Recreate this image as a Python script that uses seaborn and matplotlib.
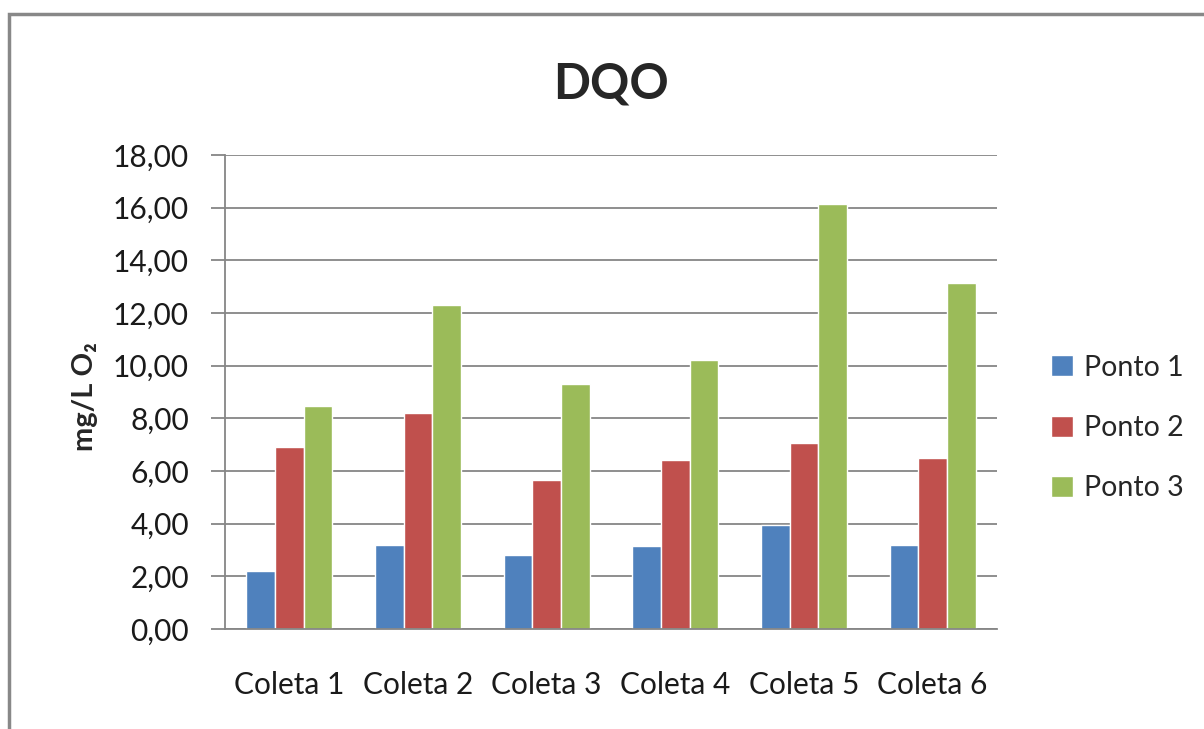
import matplotlib
matplotlib.use("Agg")
import matplotlib.pyplot as plt
import seaborn as sns
import pandas as pd
from matplotlib.patches import Rectangle
from matplotlib.ticker import FuncFormatter, FixedLocator

# dados
coletas = ["Coleta 1", "Coleta 2", "Coleta 3", "Coleta 4", "Coleta 5", "Coleta 6"]
ponto1 = [2.22, 3.20, 2.82, 3.14, 3.94, 3.20]
ponto2 = [6.92, 8.20, 5.65, 6.43, 7.05, 6.49]
ponto3 = [8.46, 12.29, 9.30, 10.22, 16.14, 13.14]
pontos = ["Ponto 1", "Ponto 2", "Ponto 3"]
y_ticks = [0, 2, 4, 6, 8, 10, 12, 14, 16, 18]

cores = ["#4F81BD", "#C0504D", "#9BBB59"]
cinza = "#868686"

sns.set_style("white")
plt.rcParams["font.family"] = ["Lato", "DejaVu Sans"]

# formato longo para o seaborn
df = pd.DataFrame({
    "coleta": coletas * 3,
    "ponto": [p for p in pontos for _ in coletas],
    "valor": ponto1 + ponto2 + ponto3,
})

fig = plt.figure(figsize=(12.04, 7.29), dpi=100)
ax = fig.add_axes([225 / 1204, 1 - 629 / 729, (997 - 225) / 1204, (629 - 155) / 729])

sns.barplot(data=df, x="coleta", y="valor", hue="ponto", palette=cores,
            width=0.67, gap=0, saturation=1, ax=ax, legend=True)

ax.set_ylim(0, 18)
ax.set_xlim(-0.5, 5.5)
ax.set_yticks(y_ticks)
ax.yaxis.set_major_formatter(FuncFormatter(lambda v, p: f"{v:.2f}".replace(".", ",")))
ax.grid(axis="y", color=cinza, linewidth=1.3)
ax.set_axisbelow(True)

for s in ["top", "right"]:
    ax.spines[s].set_visible(False)
for s in ["left", "bottom"]:
    ax.spines[s].set_color(cinza)
    ax.spines[s].set_linewidth(1.3)

# marcas do eixo x nas divisões entre categorias
ax.xaxis.set_minor_locator(FixedLocator([i - 0.5 for i in range(len(coletas) + 1)]))
ax.tick_params(axis="x", which="major", length=0, pad=30, labelsize=21.5, labelcolor="#1a1a1a")
ax.tick_params(axis="x", which="minor", length=10, width=1.3, color=cinza, direction="out")
ax.tick_params(axis="y", length=10, width=1.3, color=cinza, direction="out", pad=16,
               labelsize=21.5, labelcolor="#1a1a1a", left=True)

ax.set_xlabel("")
ax.set_ylabel("mg/L O₂", fontsize=21, fontweight="bold")
ax.yaxis.set_label_coords(-0.165, 0.49)

ax.set_title("DQO", fontsize=35, fontweight="bold", pad=41, x=0.5)

leg = ax.legend(loc="center left", bbox_to_anchor=(1.037, 0.424), frameon=False,
                fontsize=20.5, handlelength=0.75, handleheight=0.75, handletextpad=0.4,
                labelspacing=1.2)

# moldura cinza em volta do gráfico (só esquerda e topo aparecem)
fig.patches.append(Rectangle((9 / 1204, -0.02), 1.2, 1.02 - 14 / 729,
                             transform=fig.transFigure, fill=False,
                             edgecolor="#888888", linewidth=2.5))

fig.savefig("out.png", dpi=100)
